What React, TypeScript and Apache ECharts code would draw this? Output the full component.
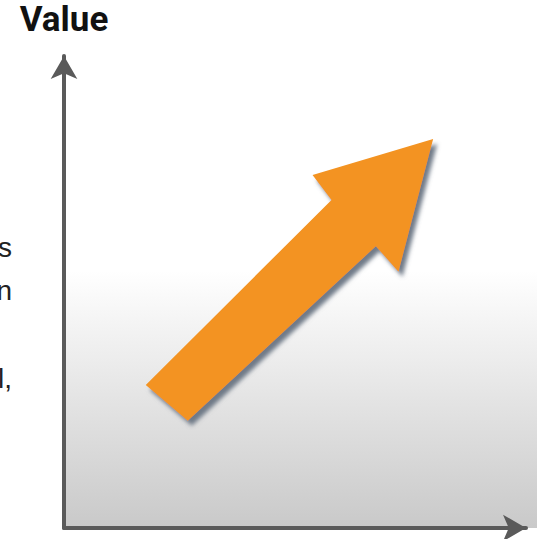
import React, { useEffect, useRef } from "react";
import * as echarts from "echarts";

// Axis title
const yAxisTitle = "Value";
// Clipped words at the left edge
const sideFragments = ["s", "n", "l,"];
const sideFragmentY = [247, 290, 378];
// Arrow outline, in data units (x, y)
const arrowX = [17.7, 57.9, 53.8, 79.9, 72.4, 67.5, 26.8];
const arrowY = [30.3, 69.5, 74.8, 82.4, 54.3, 59.7, 22.7];

export default function App() {
  const ref = useRef<HTMLDivElement>(null);
  useEffect(() => {
    const chart = echarts.init(ref.current!, null, { renderer: "svg" });
    const axisLine = {
      show: true,
      symbol: ["none", "arrow"],
      symbolSize: [20, 23],
      lineStyle: { color: "#5a5a5a", width: 4 },
    };
    chart.setOption({
      animation: false,
      backgroundColor: "#ffffff",
      grid: { left: 64, right: 11, top: 56, bottom: 11 },
      xAxis: {
        type: "value",
        min: 0,
        max: 100,
        axisLine,
        axisTick: { show: false },
        axisLabel: { show: false },
        splitLine: { show: false },
      },
      yAxis: {
        type: "value",
        min: 0,
        max: 100,
        name: yAxisTitle,
        nameLocation: "end",
        nameGap: 19,
        nameTextStyle: {
          fontFamily: "Roboto",
          fontWeight: "bold",
          fontSize: 35,
          color: "#111111",
          align: "center",
        },
        axisLine,
        axisTick: { show: false },
        axisLabel: { show: false },
        splitLine: { show: false },
      },
      graphic: [
        {
          type: "rect",
          z: -10,
          shape: { x: 66, y: 60, width: 471, height: 468 },
          style: {
            fill: new echarts.graphic.LinearGradient(0, 0, 0, 1, [
              { offset: 0, color: "#ffffff" },
              { offset: 0.45, color: "#ffffff" },
              { offset: 1, color: "#c9c9c9" },
            ]),
          },
        },
        ...sideFragments.map((t, i) => ({
          type: "text",
          x: 12,
          y: sideFragmentY[i],
          style: {
            text: t,
            fontFamily: "Liberation Sans",
            fontSize: 28,
            fill: "#222222",
            align: "right",
            verticalAlign: "middle",
          },
        })),
      ],
      series: [
        {
          type: "custom",
          data: [0],
          clip: false,
          renderItem: (params: any, api: any) => {
            const pts = arrowX.map((x, i) => api.coord([x, arrowY[i]]));
            return {
              type: "polygon",
              shape: { points: pts },
              style: {
                fill: "#F39321",
                shadowBlur: 4,
                shadowOffsetX: 4,
                shadowOffsetY: 5,
                shadowColor: "rgba(105,115,130,0.95)",
              },
            };
          },
        },
      ],
    });
    return () => chart.dispose();
  }, []);
  return (
    <div
      ref={ref}
      style={{ position: "fixed", left: 0, top: 0, width: 537, height: 539 }}
    />
  );
}
